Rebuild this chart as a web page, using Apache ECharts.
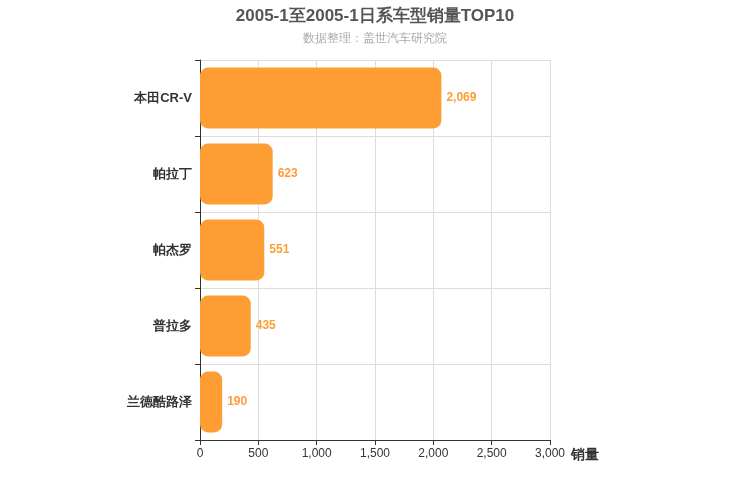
<!DOCTYPE html>
<html>
<head>
<meta charset="utf-8">
<script src="https://cdn.jsdelivr.net/npm/echarts@6/dist/echarts.min.js"></script>
</head>
<body style="margin:0">
<div id="chart" style="width:750px;height:500px"></div>
<script>
// 车型 & 销量
var models = ['兰德酷路泽', '普拉多', '帕杰罗', '帕拉丁', '本田CR-V'];
var sales = [190, 435, 551, 623, 2069];

var chart = echarts.init(document.getElementById('chart'));
chart.setOption({
    title: {
        text: '2005-1至2005-1日系车型销量TOP10',
        subtext: '数据整理：盖世汽车研究院',
        left: 'center',
        top: 3,
        itemGap: 8,
        textStyle: { fontSize: 17, fontWeight: 'bold', color: '#555' },
        subtextStyle: { fontSize: 12, color: '#aaa' }
    },
    grid: { left: 200, right: 200, top: 60, bottom: 60 },
    xAxis: {
        type: 'value',
        min: 0, max: 3000, interval: 500,
        name: '销量',
        nameGap: 15,
        nameTextStyle: { fontSize: 14, fontWeight: 'bold', color: '#333', verticalAlign: 'top', padding: [8, 0, 0, 0] },
        axisLine: { show: true, lineStyle: { color: '#333' } },
        axisTick: { show: true },
        axisLabel: { color: '#333', fontSize: 12 },
        splitLine: { lineStyle: { color: '#ddd' } }
    },
    yAxis: {
        type: 'category',
        data: models,
        axisLine: { lineStyle: { color: '#333' } },
        axisTick: { show: true },
        axisLabel: { color: '#333', fontSize: 13, fontWeight: 'bold' },
        splitLine: { show: true, lineStyle: { color: '#ddd' } }
    },
    series: [{
        type: 'bar',
        data: sales,
        barWidth: '80%',
        itemStyle: { color: '#ff9d35', borderRadius: 8 },
        label: {
            show: true, position: 'right', color: '#ff9d35', fontSize: 12, fontWeight: 'bold',
            formatter: function (p) { return p.value.toLocaleString('en-US'); }
        }
    }]
});
</script>
</body>
</html>
